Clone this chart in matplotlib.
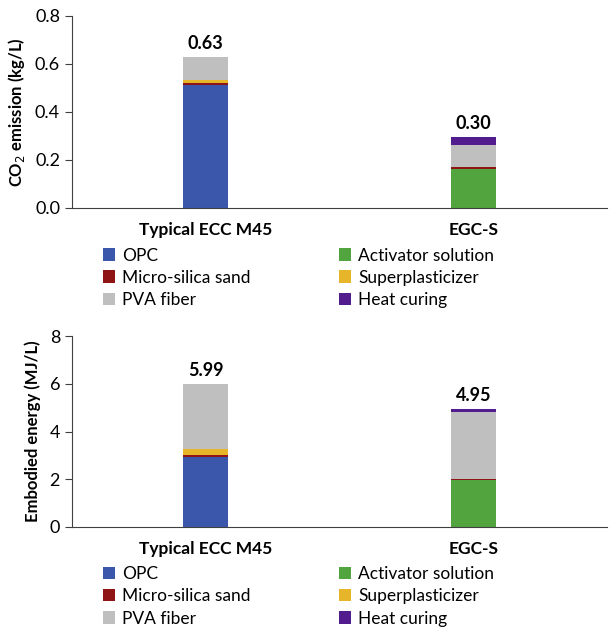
import numpy as np
import matplotlib.pyplot as plt
from matplotlib.patches import Patch

plt.rcParams['font.family'] = ['Lato', 'DejaVu Sans']

mixes = ["Typical ECC M45", "EGC-S"]
components = ["OPC", "Activator solution", "Micro-silica sand",
              "Superplasticizer", "PVA fiber", "Heat curing"]
colors = ["#3A57AC", "#52A43F", "#8E1416", "#E7B529", "#BFBFBF", "#521C8E"]

# values per component, one entry per mix
co2 = {
    "OPC": [0.512, 0.0],
    "Activator solution": [0.0, 0.164],
    "Micro-silica sand": [0.010, 0.006],
    "Superplasticizer": [0.011, 0.0],
    "PVA fiber": [0.097, 0.092],
    "Heat curing": [0.0, 0.035],
}
energy = {
    "OPC": [2.92, 0.0],
    "Activator solution": [0.0, 1.99],
    "Micro-silica sand": [0.08, 0.04],
    "Superplasticizer": [0.25, 0.0],
    "PVA fiber": [2.74, 2.79],
    "Heat curing": [0.0, 0.13],
}
co2_totals = ["0.63", "0.30"]
energy_totals = ["5.99", "4.95"]

fig = plt.figure(figsize=(6.09, 6.30), dpi=100)
ax1 = fig.add_axes([0.118, 0.670, 0.879, 0.305])
ax2 = fig.add_axes([0.118, 0.1635, 0.879, 0.303])


def draw(ax, data, totals, ylim, yticks, fmt, ylabel):
    x = np.arange(len(mixes))
    bottom = np.zeros(len(mixes))
    for comp, col in zip(components, colors):
        vals = np.array(data[comp])
        ax.bar(x, vals, 0.168, bottom=bottom, color=col, linewidth=0)
        bottom += vals
    for xi, top, lab in zip(x, bottom, totals):
        ax.text(xi, top + ylim * 0.025, lab, ha='center', va='bottom',
                fontsize=13, fontweight='bold')
    ax.set_xlim(-0.5, 1.5)
    ax.set_ylim(0, ylim)
    ax.set_yticks(yticks)
    ax.set_yticklabels([fmt.format(t) for t in yticks], fontsize=13)
    ax.set_xticks(x)
    ax.set_xticklabels(mixes, fontsize=12.5, fontweight='bold')
    ax.tick_params(axis='x', length=0, pad=10)
    ax.tick_params(axis='y', direction='out', length=5, color='#404040')
    ax.spines['top'].set_visible(False)
    ax.spines['right'].set_visible(False)
    ax.spines['left'].set_color('#404040')
    ax.spines['bottom'].set_color('#404040')
    ax.set_ylabel(ylabel, fontsize=12, fontweight='bold', labelpad=6)

    order = [0, 2, 4, 1, 3, 5]
    handles = [Patch(facecolor=colors[i], label=components[i]) for i in order]
    ax.legend(handles=handles, ncol=2, loc='upper left',
              bbox_to_anchor=(0.045, -0.17), frameon=False, fontsize=12.5,
              handlelength=0.7, handleheight=0.7, handletextpad=0.4,
              columnspacing=5.1, labelspacing=0.35, borderaxespad=0)


draw(ax1, co2, co2_totals, 0.8, [0.0, 0.2, 0.4, 0.6, 0.8], "{:.1f}",
     "CO$_2$ emission (kg/L)")
draw(ax2, energy, energy_totals, 8, [0, 2, 4, 6, 8], "{:.0f}",
     "Embodied energy (MJ/L)")

fig.savefig("out.png", dpi=100)
